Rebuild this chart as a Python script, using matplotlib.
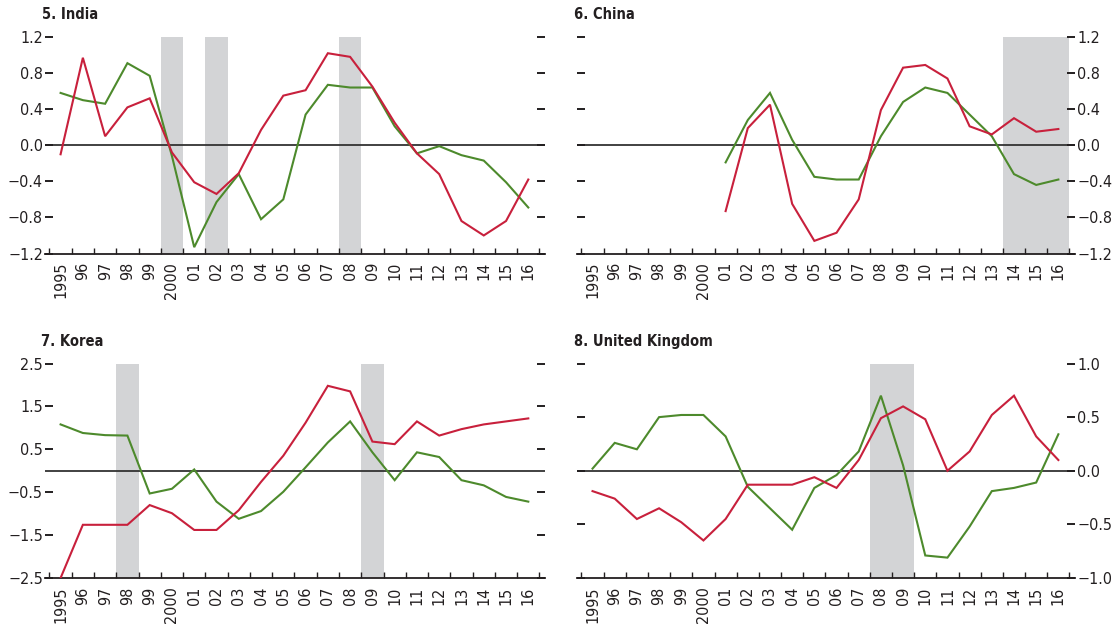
import matplotlib
matplotlib.use("Agg")
import matplotlib.pyplot as plt
from matplotlib import font_manager
import numpy as np

# a condensed face suits the small multiples best; take what is installed
fonts = font_manager.fontManager.ttflist
names = {f.name for f in fonts}
STRETCH = 'normal'
if 'Liberation Sans Narrow' in names:
    FONT = 'Liberation Sans Narrow'
elif any(f.name == 'DejaVu Sans' and f.stretch == 'condensed' for f in fonts):
    FONT = 'DejaVu Sans'
    STRETCH = 'condensed'
else:
    FONT = 'Liberation Sans'
plt.rcParams['font.family'] = [FONT, 'DejaVu Sans']
plt.rcParams['font.stretch'] = STRETCH
SIZE = 11.5 if STRETCH == 'condensed' else 12
TITLE_SIZE = 10.5 if STRETCH == 'condensed' else 12

years = list(range(1995, 2017))
year_labels = ['1995', '96', '97', '98', '99', '2000', '01', '02', '03', '04', '05',
               '06', '07', '08', '09', '10', '11', '12', '13', '14', '15', '16']

# India
india_red = [-0.10, 0.97, 0.10, 0.42, 0.52, -0.08, -0.41, -0.54, -0.31, 0.17, 0.55,
             0.61, 1.02, 0.98, 0.65, 0.25, -0.09, -0.32, -0.84, -1.00, -0.84, -0.38]
india_green = [0.58, 0.50, 0.46, 0.91, 0.77, -0.12, -1.13, -0.63, -0.32, -0.82, -0.60,
               0.34, 0.67, 0.64, 0.64, 0.21, -0.09, -0.01, -0.11, -0.17, -0.41, -0.69]
india_shade = [(1999.5, 2000.5), (2001.5, 2002.5), (2007.5, 2008.5)]

# China (series start in 2001)
china_years = list(range(2001, 2017))
china_red = [-0.73, 0.19, 0.45, -0.65, -1.06, -0.97, -0.60, 0.39, 0.86, 0.89, 0.74,
             0.21, 0.12, 0.30, 0.15, 0.18]
china_green = [-0.19, 0.28, 0.58, 0.06, -0.35, -0.38, -0.38, 0.10, 0.48, 0.64, 0.58,
               0.34, 0.10, -0.32, -0.44, -0.38]
china_shade = [(2013.5, 2016.5)]

# Korea
korea_red = [-2.50, -1.26, -1.26, -1.26, -0.80, -0.99, -1.38, -1.38, -0.92, -0.26, 0.35,
             1.12, 1.98, 1.85, 0.68, 0.62, 1.15, 0.82, 0.97, 1.08, 1.15, 1.22]
korea_green = [1.08, 0.88, 0.83, 0.82, -0.53, -0.42, 0.03, -0.72, -1.12, -0.94, -0.49,
               0.08, 0.66, 1.15, 0.43, -0.22, 0.43, 0.32, -0.22, -0.34, -0.61, -0.72]
korea_shade = [(1997.5, 1998.5), (2008.5, 2009.5)]

# United Kingdom
uk_red = [-0.19, -0.26, -0.45, -0.35, -0.48, -0.65, -0.45, -0.13, -0.13, -0.13, -0.06,
          -0.16, 0.10, 0.49, 0.60, 0.48, 0.00, 0.18, 0.52, 0.70, 0.32, 0.10]
uk_green = [0.02, 0.26, 0.20, 0.50, 0.52, 0.52, 0.32, -0.15, -0.35, -0.55, -0.16,
            -0.04, 0.18, 0.70, 0.05, -0.79, -0.81, -0.52, -0.19, -0.16, -0.11, 0.34]
uk_shade = [(2007.5, 2009.5)]

RED = '#c8203c'
GREEN = '#4d8a2c'
SHADE = '#d3d4d6'
INK = '#231f20'

fig = plt.figure(figsize=(11.13, 6.28), dpi=100)

W, H = 1113.0, 628.0


def make_axes(left, right, top, bottom):
    return fig.add_axes([left / W, 1 - bottom / H, (right - left) / W, (bottom - top) / H])


def panel(ax, title, tx, ty, xs, red, green, shade, ylim, yticks, ylabels, side):
    for a, b in shade:
        ax.axvspan(a, b, color=SHADE, lw=0, zorder=0)
    ax.axhline(0, color='#333333', lw=1.3, zorder=1)
    ax.plot(xs, green, color=GREEN, lw=1.5, zorder=2, solid_joinstyle='miter')
    ax.plot(xs, red, color=RED, lw=1.5, zorder=3, solid_joinstyle='miter')
    ax.set_xlim(1994.3, 2016.75)
    ax.set_ylim(*ylim)

    for s in ['top', 'left', 'right']:
        ax.spines[s].set_visible(False)
    ax.spines['bottom'].set_color(INK)
    ax.spines['bottom'].set_linewidth(1.3)

    # tick marks between years, labels centred on years
    ax.set_xticks(np.arange(1994.5, 2017, 1.0))
    ax.set_xticklabels([])
    ax.set_xticks(years, minor=True)
    ax.set_xticklabels(year_labels, minor=True, rotation=90, fontsize=SIZE,
                       color=INK)
    ax.tick_params(axis='x', which='major', direction='in', length=4.5, width=1.0,
                   color=INK)
    ax.tick_params(axis='x', which='minor', length=0, pad=6)

    ax.set_yticks(yticks)
    ax.set_yticklabels(ylabels, fontsize=SIZE, color=INK)
    ax.tick_params(axis='y', direction='in', length=6, width=1.4, color=INK,
                   left=True, right=True, pad=1.5,
                   labelleft=(side == 'left'), labelright=(side == 'right'))

    fig.text(tx / W, 1 - ty / H, title, fontsize=TITLE_SIZE, fontweight='bold',
             color=INK, ha='left', va='top')


def fmt(vals, nd):
    return [('\u2212' if v < 0 else '') + f'{abs(v):.{nd}f}' for v in vals]


ticks12 = [-1.2, -0.8, -0.4, 0.0, 0.4, 0.8, 1.2]
ticks25 = [-2.5, -1.5, -0.5, 0.5, 1.5, 2.5]
ticks10 = [-1.0, -0.5, 0.0, 0.5, 1.0]

ax1 = make_axes(45, 545, 37, 253.5)
panel(ax1, '5. India', 42, 7, years, india_red, india_green, india_shade,
      (-1.2, 1.2), ticks12, fmt(ticks12, 1), 'left')

ax2 = make_axes(577, 1075, 37, 253.5)
panel(ax2, '6. China', 574, 7, china_years, china_red, china_green, china_shade,
      (-1.2, 1.2), ticks12, fmt(ticks12, 1), 'right')

ax3 = make_axes(45, 545, 363.5, 578)
panel(ax3, '7. Korea', 41, 334, years, korea_red, korea_green, korea_shade,
      (-2.5, 2.5), ticks25, fmt(ticks25, 1), 'left')

ax4 = make_axes(577, 1075, 363.5, 578)
panel(ax4, '8. United Kingdom', 574, 334, years, uk_red, uk_green, uk_shade,
      (-1.0, 1.0), ticks10, fmt(ticks10, 1), 'right')

fig.savefig('out.png', dpi=100)
